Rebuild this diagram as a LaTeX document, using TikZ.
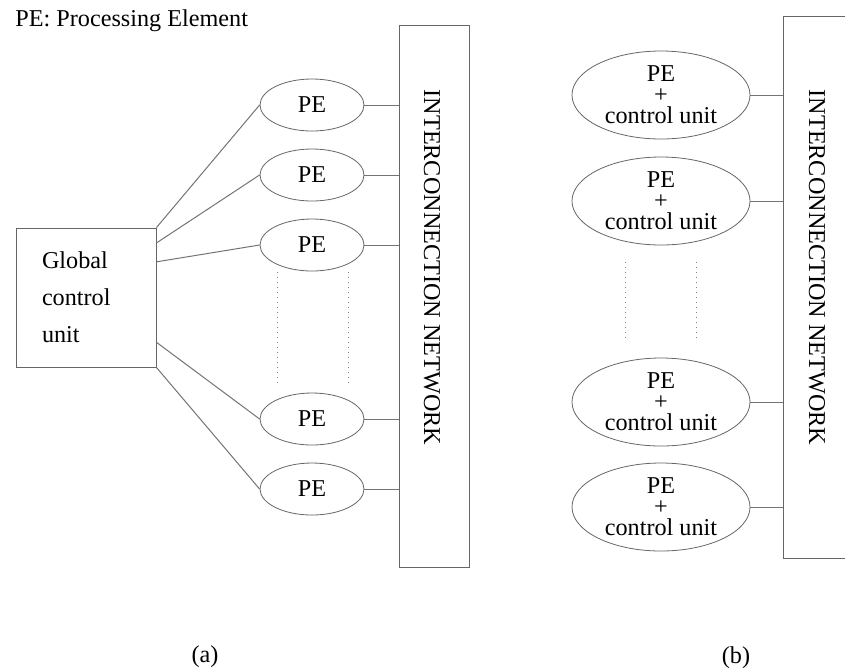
\documentclass[tikz,border=0pt]{standalone}
\usepackage{fontspec}
\setmainfont{Liberation Serif}
\usetikzlibrary{shapes.geometric,calc}

\tikzset{
  pesmall/.style={draw=black!60, ellipse, minimum width=52pt, minimum height=26pt, inner sep=0pt},
  pebig/.style={draw=black!60, ellipse, minimum width=89pt, minimum height=44pt, inner sep=0pt,
    align=center, font=\fontsize{12.1}{10.5}\selectfont},
  netbox/.style={draw=black!60, minimum width=35pt, minimum height=271pt, inner sep=0pt},
  wire/.style={draw=black!55, line width=0.5pt},
  dotline/.style={draw=black!50, dotted, line width=0.5pt},
}

\begin{document}
\begin{tikzpicture}[x=0.5pt, y=-0.5pt, font=\fontsize{12.1}{14.5}\selectfont]
 \useasboundingbox (0,0) rectangle (845,671);

 \node[anchor=west, inner sep=0pt] (legend) at (15,21) {PE: Processing Element};

 % (a) global control unit
 \node[draw=black!60, minimum width=70pt, minimum height=69.5pt, text width=44pt, inner xsep=13pt,
   align=left, font=\fontsize{12.1}{18.5}\selectfont] (gcu) at (86,297.5) {Global\\control\\unit};

 \node[pesmall] (pe1) at (312,105) {PE};
 \node[pesmall] (pe2) at (312,175) {PE};
 \node[pesmall] (pe3) at (312,245) {PE};
 \node[pesmall] (pe4) at (312,419) {PE};
 \node[pesmall] (pe5) at (312,489) {PE};

 \node[netbox] (net1) at (434,296) {};
 \node[rotate=-90, inner sep=0pt] (net1txt) at (432,267.5) {INTERCONNECTION NETWORK};

 \draw[wire] (gcu.north east) -- (pe1.west);
 \draw[wire] ($(gcu.north east)!0.11!(gcu.south east)$) -- (pe2.west);
 \draw[wire] ($(gcu.north east)!0.245!(gcu.south east)$) -- (pe3.west);
 \draw[wire] ($(gcu.north east)!0.82!(gcu.south east)$) -- (pe4.west);
 \draw[wire] (gcu.south east) -- (pe5.west);

 \draw[wire] (pe1.east) -- (pe1.east -| net1.west);
 \draw[wire] (pe2.east) -- (pe2.east -| net1.west);
 \draw[wire] (pe3.east) -- (pe3.east -| net1.west);
 \draw[wire] (pe4.east) -- (pe4.east -| net1.west);
 \draw[wire] (pe5.east) -- (pe5.east -| net1.west);

 \coordinate (da1) at (277,272);
 \coordinate (da2) at (277,385);
 \coordinate (da3) at (348,272);
 \coordinate (da4) at (348,385);
 \draw[dotline] (da1) -- (da2);
 \draw[dotline] (da3) -- (da4);

 \node (capa) at (205,657) {(a)};

 % (b) one control unit per PE
 \node[pebig] (pc1) at (661,95) {PE\\+\\control unit};
 \node[pebig] (pc2) at (661,201) {PE\\+\\control unit};
 \node[pebig] (pc3) at (661,402) {PE\\+\\control unit};
 \node[pebig] (pc4) at (661,507) {PE\\+\\control unit};

 \node[netbox] (net2) at (818,287) {};
 \node[rotate=-90, inner sep=0pt] (net2txt) at (817,267.5) {INTERCONNECTION NETWORK};

 \draw[wire] (pc1.east) -- (pc1.east -| net2.west);
 \draw[wire] (pc2.east) -- (pc2.east -| net2.west);
 \draw[wire] (pc3.east) -- (pc3.east -| net2.west);
 \draw[wire] (pc4.east) -- (pc4.east -| net2.west);

 \coordinate (db1) at (625,262);
 \coordinate (db2) at (625,342);
 \coordinate (db3) at (696,262);
 \coordinate (db4) at (696,342);
 \draw[dotline] (db1) -- (db2);
 \draw[dotline] (db3) -- (db4);

 \node (capb) at (736,658) {(b)};
\end{tikzpicture}
\end{document}
